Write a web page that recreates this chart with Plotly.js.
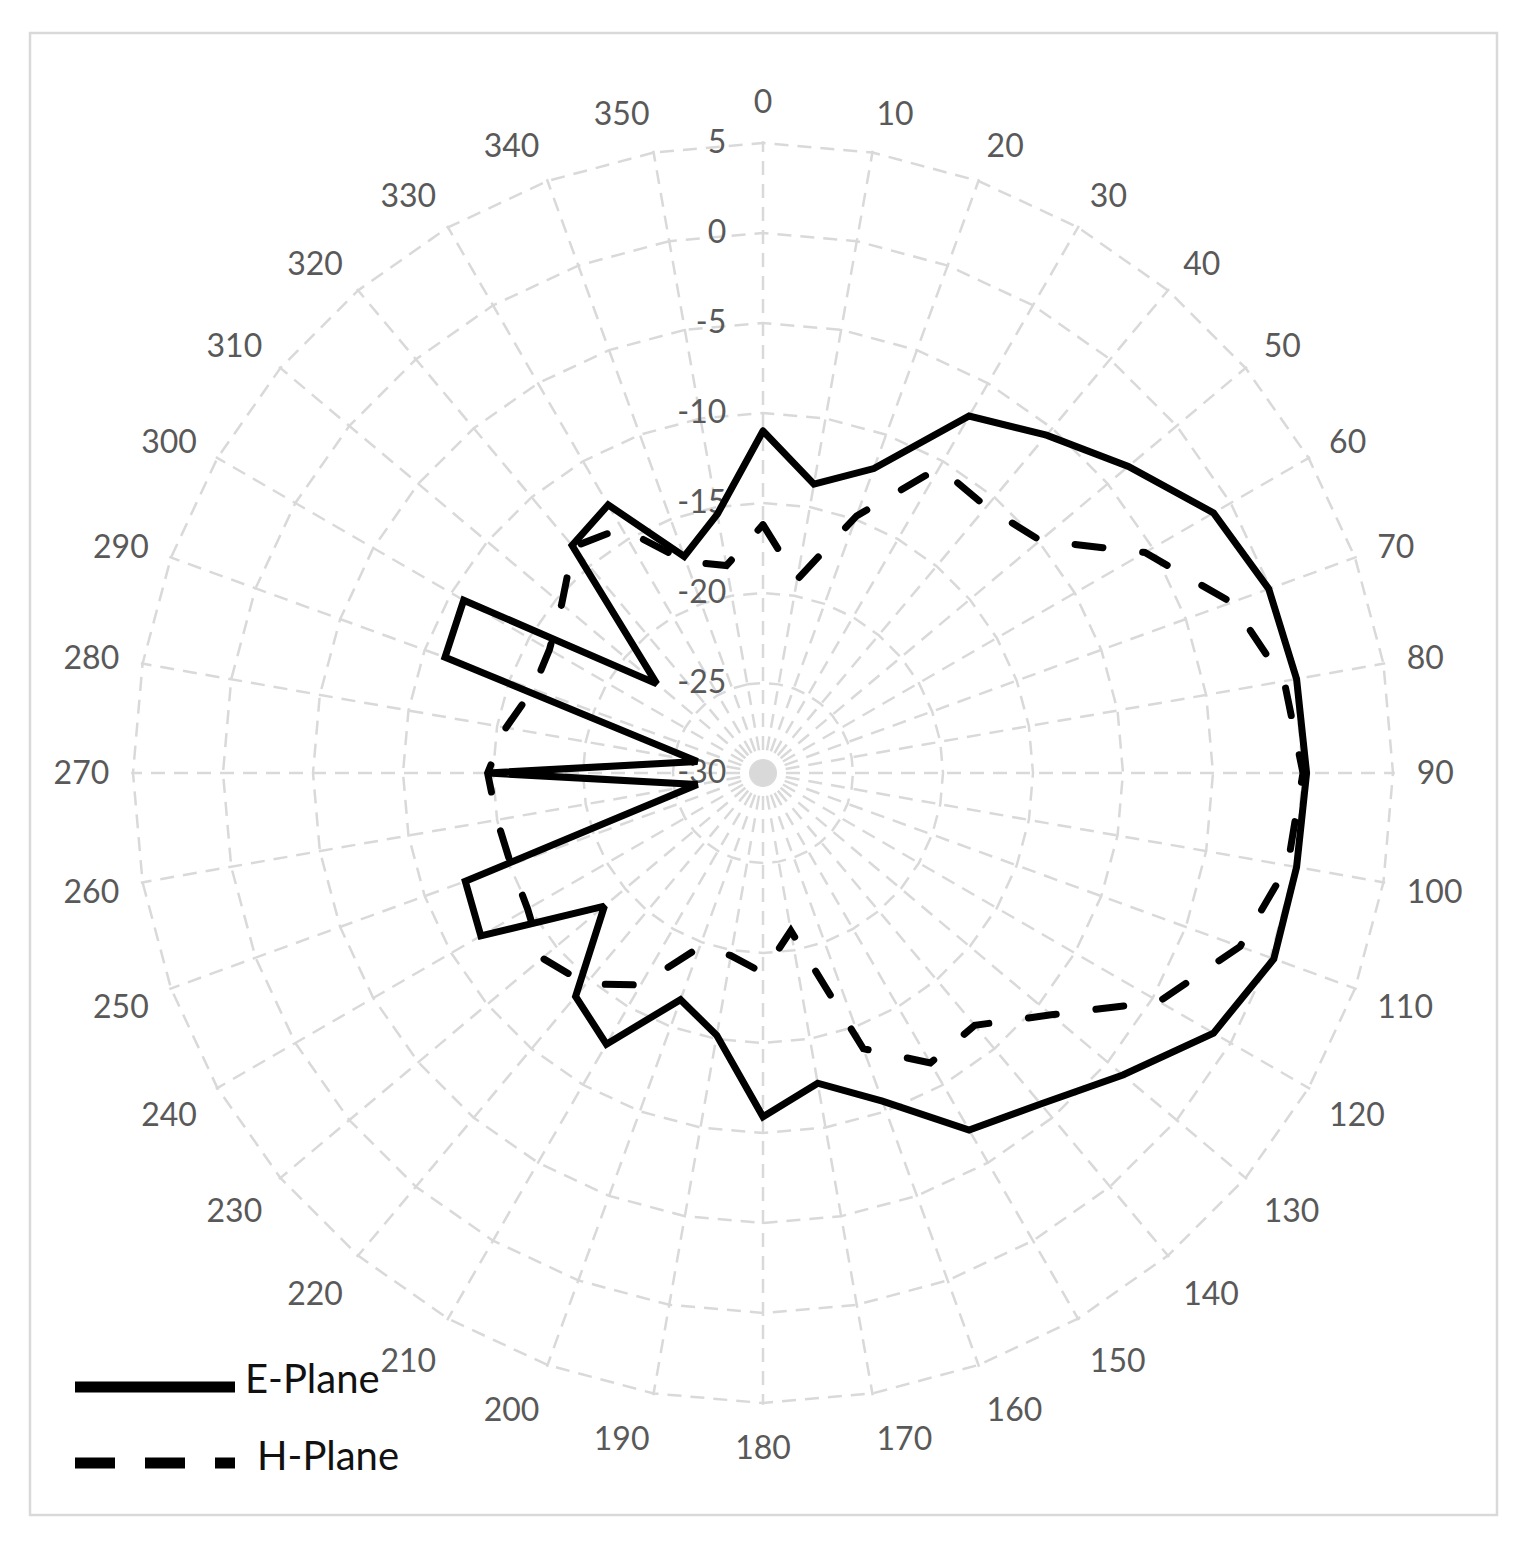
<!DOCTYPE html>
<html>
<head>
<meta charset="utf-8">
<script src="https://cdn.plot.ly/plotly-3.0.1.min.js"></script>
<style>
  body { margin: 0; background: #fff; }
  #chart { width: 1530px; height: 1548px; }
  .scatterlayer path.js-line { stroke-linecap: round; }
</style>
</head>
<body>
<div id="chart"></div>
<script>
const angles = ['0', '10', '20', '30', '40', '50', '60', '70', '80', '90', '100', '110',
  '120', '130', '140', '150', '160', '170', '180', '190', '200', '210', '220', '230',
  '240', '250', '260', '270', '280', '290', '300', '310', '320', '330', '340', '350'];

// gain in dB, one value per angle above
const ePlane = [-11.0, -13.7, -12.0, -7.1, -5.5, -3.5, -1.1, -0.1, 0.1, 0.2, 0.1, 0.2,
  -1.1, -3.9, -6.0, -7.1, -10.6, -12.5, -10.9, -15.2, -16.6, -12.6, -13.8, -18.5,
  -11.9, -12.4, -26.3, -14.7, -26.3, -11.2, -10.8, -22.3, -13.5, -12.8, -17.2, -15.4];

const hPlane = [-16.2, -19.1, -14.8, -10.4, -10.7, -9.9, -5.5, -2.3, -0.6, 0.0, -0.4, -1.8,
  -4.6, -9.1, -11.7, -11.4, -13.7, -21.1, -18.9, -19.7, -19.7, -16.4, -14.7, -14.0,
  -14.9, -15.1, -15.0, -14.7, -15.5, -16.4, -16.3, -15.4, -13.6, -14.3, -17.5, -18.3];

const rTicks = [-30, -25, -20, -15, -10, -5, 0, 5];
const rLabels = ['-30', '-25', '-20', '-15', '-10', '-5', '0', '5'];

// radar charts join the last point back to the first
const closeLoop = arr => arr.concat([arr[0]]);

const W = 1530, H = 1548;
// plot centre and the pixel radius of the 5 dB ring
const cx = 763, cy = 773, r5 = 630;
// range runs a bit past 5 so plotly keeps the outer ring grid line
const rMin = -30, rMax = 5.1;
const rOuter = r5 * (rMax - rMin) / (5 - rMin);

const labelFont = { family: 'Lato, "Open Sans", sans-serif', size: 32, color: '#595959' };
const gridStyle = { gridcolor: '#d9d9d9', gridwidth: 2.5, griddash: '14px,9px' };

const traces = [
  {
    type: 'scatterpolar', mode: 'lines', name: 'E-Plane',
    r: closeLoop(ePlane), theta: closeLoop(angles),
    line: { color: '#000', width: 7 }
  },
  {
    type: 'scatterpolar', mode: 'lines', name: 'H-Plane',
    r: closeLoop(hPlane), theta: closeLoop(angles),
    line: { color: '#000', width: 7, dash: '28px,40px' }
  }
];

const layout = {
  width: W, height: H,
  margin: { l: 0, r: 0, t: 0, b: 0 },
  paper_bgcolor: '#fff',
  showlegend: false,
  polar: {
    domain: {
      x: [(cx - rOuter) / W, (cx + rOuter) / W],
      y: [(H - cy - rOuter) / H, (H - cy + rOuter) / H]
    },
    gridshape: 'linear',
    bgcolor: '#fff',
    angularaxis: Object.assign({
      type: 'category', rotation: 90, direction: 'clockwise',
      showline: false, ticks: 'outside', ticklen: 15, tickcolor: 'rgba(0,0,0,0)',
      tickfont: labelFont
    }, gridStyle),
    radialaxis: Object.assign({
      range: [rMin, rMax], tickmode: 'array', tickvals: rTicks, ticktext: rLabels,
      angle: 90, side: 'counterclockwise', tickangle: 90,
      showline: false, ticks: 'outside', ticklen: 25, tickcolor: 'rgba(0,0,0,0)',
      tickfont: labelFont, layer: 'below traces'
    }, gridStyle)
  },
  shapes: [
    // outer frame
    { type: 'rect', xref: 'paper', yref: 'paper',
      x0: 30 / W, x1: 1497 / W, y0: 1 - 1515 / H, y1: 1 - 33 / H,
      line: { color: '#d9d9d9', width: 2.5 } },
    // legend samples
    { type: 'line', xref: 'paper', yref: 'paper',
      x0: 75 / W, x1: 235 / W, y0: 1 - 1387 / H, y1: 1 - 1387 / H,
      line: { color: '#000', width: 11 } },
    { type: 'line', xref: 'paper', yref: 'paper',
      x0: 75 / W, x1: 235 / W, y0: 1 - 1463 / H, y1: 1 - 1463 / H,
      line: { color: '#000', width: 11, dash: '40px,30px' } }
  ],
  annotations: [
    { text: 'E-Plane', xref: 'paper', yref: 'paper', x: 243 / W, y: 1 - 1378 / H,
      xanchor: 'left', yanchor: 'middle', showarrow: false,
      font: { family: 'Lato, "Open Sans", sans-serif', size: 40, color: '#111' } },
    { text: 'H-Plane', xref: 'paper', yref: 'paper', x: 255 / W, y: 1 - 1455 / H,
      xanchor: 'left', yanchor: 'middle', showarrow: false,
      font: { family: 'Lato, "Open Sans", sans-serif', size: 40, color: '#111' } }
  ]
};

Plotly.newPlot('chart', traces, layout, { displayModeBar: false, staticPlot: true });
</script>
</body>
</html>
